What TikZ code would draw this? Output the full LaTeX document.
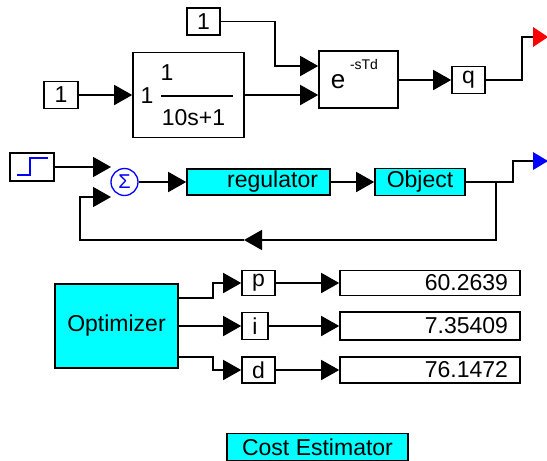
\documentclass[tikz,border=0pt]{standalone}
\usepackage{fontspec}
\setmainfont{Liberation Sans}
\usetikzlibrary{arrows.meta}
\definecolor{cyanvif}{RGB}{0,255,255}

\tikzset{
  bloc/.style={draw, line width=1.6pt, inner sep=0pt, font=\fontsize{23}{26}\selectfont},
  blocc/.style={bloc, fill=cyanvif},
  texte/.style={inner sep=0pt, font=\fontsize{23}{26}\selectfont},
  affich/.style={bloc, minimum width=180pt, text width=156pt, inner xsep=12pt, align=right},
}

\begin{document}
\begin{tikzpicture}[x=1pt,y=-1pt,line width=1.6pt,>={Triangle[length=18pt,width=20pt]}]
\useasboundingbox (0,0) rectangle (547,461);

%ligne du haut
\node[bloc, minimum width=34pt, minimum height=27pt] (c1) at (61,95) {1};
\node[bloc, minimum width=33pt, minimum height=27pt] (c2) at (203.5,21.5) {1};
\node[bloc, minimum width=111pt, minimum height=85pt] (tf) at (188.5,95) {};
\node[texte] (tfk) at (147,96) {1};
\node[texte] (tfn) at (167,73) {1};
\node[texte] (tfd) at (193.5,117.5) {10s+1};
\draw (161,96) -- (233,96); %trait de fraction
\node[bloc, minimum width=79pt, minimum height=57pt] (ed) at (358.5,79.5) {};
\node[texte, font=\fontsize{26}{28}\selectfont] (ede) at (338,82) {e};
\node[texte, font=\fontsize{14}{16}\selectfont] (edx) at (364,64) {-sTd};
\node[bloc, minimum width=33pt, minimum height=27pt] (q) at (468.5,80) {q};
\coordinate (out1) at (533,37);
\fill[red] (533,27) -- (548,37) -- (533,47) -- cycle;

\draw[->] (c1) -- (tf);
\draw[->] (c2.east) -- (275,21.5) |- ([yshift=13.5pt]ed.west);
\draw[->] (tf.east) -- ([yshift=-15.5pt]ed.west);
\draw[->] (ed.east |- q.west) -- (q.west);
\draw (q.east) -- (522,80) |- (out1);

%boucle
\node[bloc, minimum width=44pt, minimum height=28pt] (step) at (32,167) {};
\draw[blue, line width=1.3pt] (17,175) -- (30,175) -- (30,158) -- (48,158);
\node[circle, draw=blue, line width=1.3pt, minimum size=27pt, inner sep=0pt,
      text=blue, font=\fontsize{20}{20}\selectfont] (sum) at (124.5,182) {Σ};
\coordinate (s-in1) at (111,167);
\coordinate (s-in2) at (111,197);
\node[blocc, minimum width=143pt, minimum height=26pt, text width=119pt,
      inner xsep=12pt, align=right] (reg) at (258.5,182) {regulator};
\node[blocc, minimum width=90pt, minimum height=27pt] (obj) at (420,182) {Object};
\coordinate (out2) at (533,161);
\fill[blue] (533,152) -- (548,161) -- (533,170) -- cycle;
\coordinate (br) at (496,182);
\coordinate (fb) at (244,240);

\draw[->] (step.east) -- (s-in1);
\draw[->] (sum.east) -- (reg.west);
\draw[->] (reg) -- (obj);
\draw (obj.east) -- (513,182) |- (out2);
\draw[->] (br) |- (fb);
\draw[->] (fb) -- (80,240) |- (s-in2);

%optimisation
\node[blocc, minimum width=123pt, minimum height=84pt] (opt) at (116.5,326) {Optimizer};
\node[bloc, minimum width=33pt, minimum height=25pt] (p) at (258.5,283) {p};
\node[bloc, minimum width=26pt, minimum height=27pt] (i) at (255,326) {i};
\node[bloc, minimum width=33pt, minimum height=26pt] (d) at (258.5,370) {d};
\node[affich, minimum height=25pt] (vp) at (430,283) {60.2639};
\node[affich, minimum height=28pt] (vi) at (430,326) {7.35409};
\node[affich, minimum height=26pt] (vd) at (430,370) {76.1472};

\draw[->] ([yshift=28pt]opt.east) -- ++(34,0) |- (p.west);
\draw[->] (opt.east) -- (i.west);
\draw[->] ([yshift=-31pt]opt.east) -- ++(34,0) |- (d.west);
\draw[->] (p) -- (vp);
\draw[->] (i) -- (vi);
\draw[->] (d) -- (vd);

\node[blocc, minimum width=181pt, minimum height=27pt] (cost) at (317.5,447) {Cost Estimator};
\end{tikzpicture}
\end{document}
